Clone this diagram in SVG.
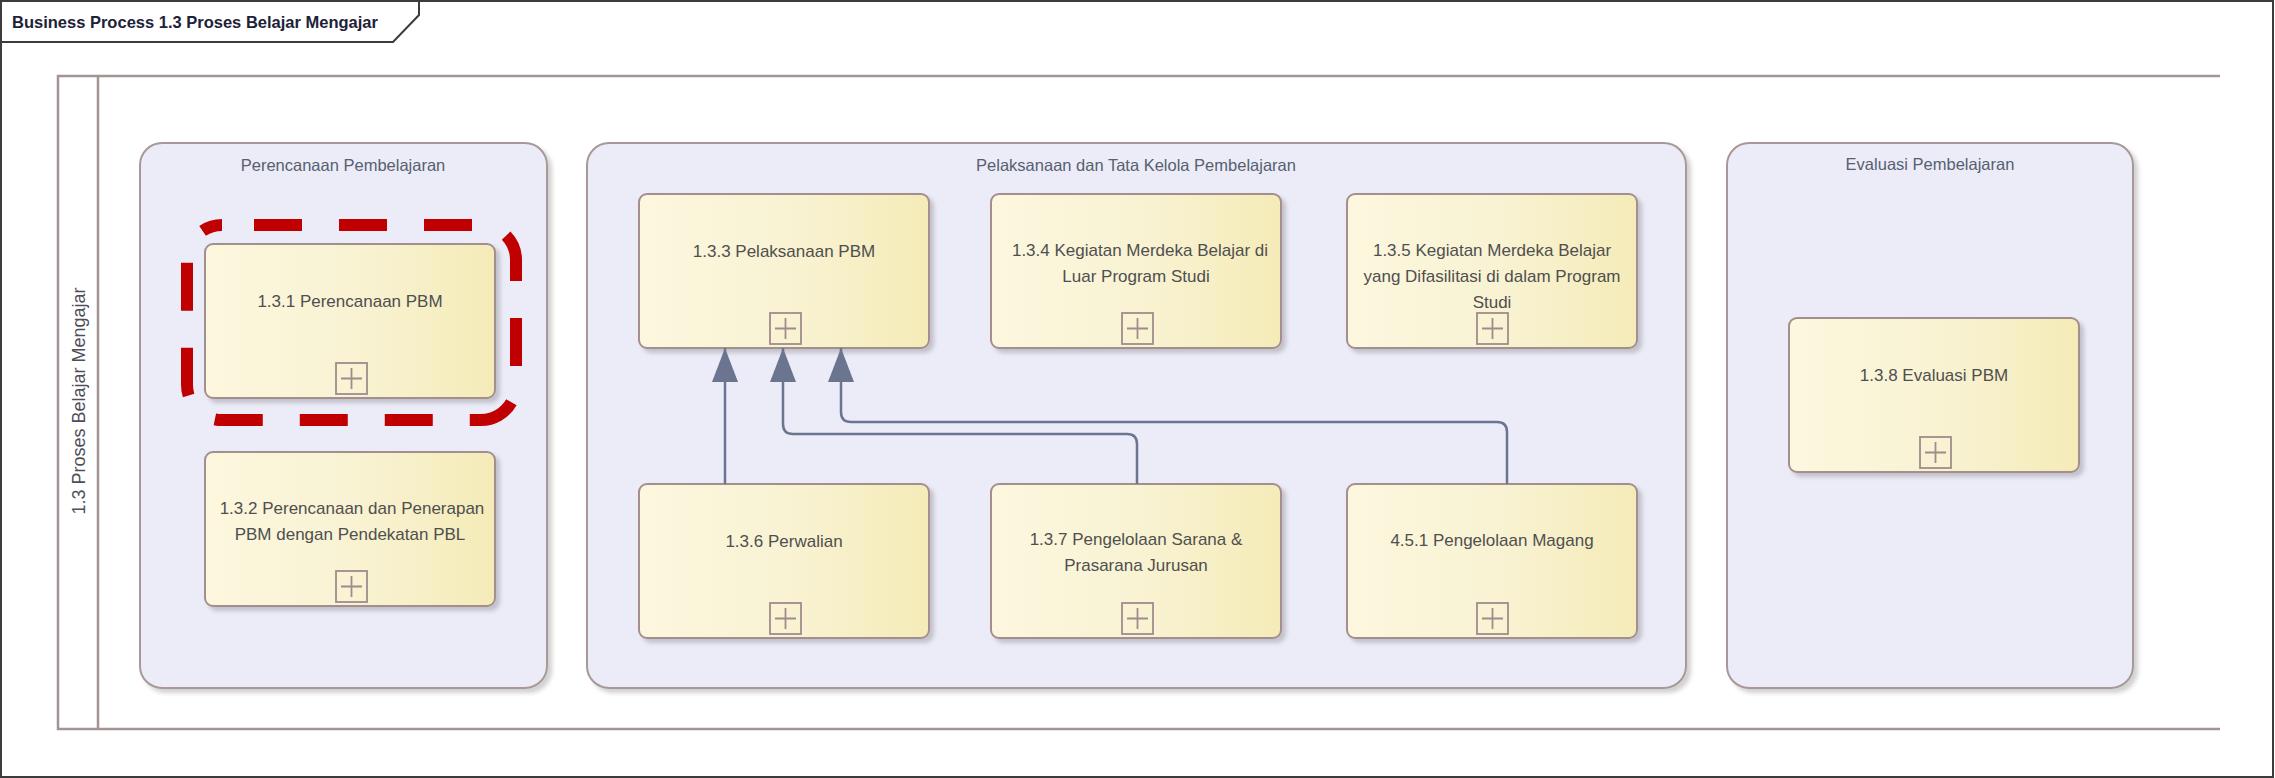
<svg xmlns="http://www.w3.org/2000/svg" width="2275" height="778" viewBox="0 0 2275 778">
  <style>
    .frame { fill: #ffffff; stroke: #3c3c3c; stroke-width: 2; }
    .tab { fill: none; stroke: #3c3c3c; stroke-width: 2; }
    .title { font-family: "Liberation Sans", Arial, sans-serif; font-weight: bold; font-size: 16.5px; fill: #1e2238; }
    .pool { fill: none; stroke: #a39393; stroke-width: 2.5; }
    .poollabel { font-family: "Liberation Sans", Arial, sans-serif; font-size: 18px; fill: #4e4e58; text-anchor: middle; }
    .lane { fill: #ececf8; stroke: #a89898; stroke-width: 2; filter: url(#shadow); }
    .lanelabel { font-family: "Liberation Sans", Arial, sans-serif; font-size: 16.5px; fill: #566070; text-anchor: middle; }
    .node { fill: url(#nodegrad); stroke: #a48f8f; stroke-width: 2; filter: url(#shadow); }
    .label { font-family: "Liberation Sans", Arial, sans-serif; font-size: 17px; fill: #4f4f4f; text-anchor: middle; }
    .plus { fill: none; stroke: #a08c8c; stroke-width: 1.8; }
    .conn { fill: none; stroke: #6b7590; stroke-width: 2.5; marker-end: url(#arrow); }
    .highlight { fill: none; stroke: #c00000; stroke-width: 12; stroke-dasharray: 48 37; stroke-dashoffset: 53; }
  </style>
  <defs>
    <linearGradient id="nodegrad" x1="0" y1="0" x2="1" y2="0">
      <stop offset="0" stop-color="#fcf7de"/>
      <stop offset="0.5" stop-color="#f9f3d4"/>
      <stop offset="1" stop-color="#f5ebb8"/>
    </linearGradient>
    <filter id="shadow" x="-5%" y="-5%" width="115%" height="115%">
      <feDropShadow dx="4" dy="4" stdDeviation="2" flood-color="#000000" flood-opacity="0.18"/>
    </filter>
    <marker id="arrow" markerUnits="userSpaceOnUse" viewBox="0 0 34 26" markerWidth="34" markerHeight="26" refX="34" refY="13" orient="auto">
      <path d="M0,0 L34,13 L0,26 z" fill="#6b7590"/>
    </marker>
  </defs>

  <g id="frame">
    <rect class="frame" x="1" y="1" width="2272" height="776"/>
    <path class="tab" d="M1,42 H393 L419,15 V1"/>
    <text class="title" x="12" y="28">Business Process 1.3 Proses Belajar Mengajar</text>
  </g>

  <g id="pool">
    <path class="pool" d="M2220,76 H58 V729 H2220"/>
    <line class="pool" x1="98" y1="76" x2="98" y2="729"/>
    <text class="poollabel" transform="translate(85,401) rotate(-90)">1.3 Proses Belajar Mengajar</text>
  </g>

  <g id="lane-perencanaan">
    <rect class="lane" x="140" y="143" width="407" height="545" rx="22"/>
    <text class="lanelabel" x="343" y="171">Perencanaan Pembelajaran</text>
  </g>
  <g id="lane-pelaksanaan">
    <rect class="lane" x="587" y="143" width="1099" height="545" rx="22"/>
    <text class="lanelabel" x="1136" y="171">Pelaksanaan dan Tata Kelola Pembelajaran</text>
  </g>
  <g id="lane-evaluasi">
    <rect class="lane" x="1727" y="143" width="406" height="545" rx="22"/>
    <text class="lanelabel" x="1930" y="170">Evaluasi Pembelajaran</text>
  </g>

  <g id="node-131">
    <rect class="node" x="205" y="244" width="290" height="154" rx="8"/>
    <text class="label" x="350" y="307">1.3.1 Perencanaan PBM</text>
    <rect class="plus" x="336" y="363" width="31" height="31"/>
    <path class="plus" d="M341,378.5 H362 M351.5,368 V389"/>
  </g>
  <g id="highlight-131">
    <rect class="highlight" x="187" y="225" width="329" height="195" rx="35"/>
  </g>

  <g id="node-132">
    <rect class="node" x="205" y="452" width="290" height="154" rx="8"/>
    <text class="label" x="352" y="514">1.3.2 Perencanaan dan Penerapan</text>
    <text class="label" x="350" y="540">PBM dengan Pendekatan PBL</text>
    <rect class="plus" x="336" y="571" width="31" height="31"/>
    <path class="plus" d="M341,586.5 H362 M351.5,576 V597"/>
  </g>

  <g id="node-133">
    <rect class="node" x="639" y="194" width="290" height="154" rx="8"/>
    <text class="label" x="784" y="257">1.3.3 Pelaksanaan PBM</text>
    <rect class="plus" x="770" y="313" width="31" height="31"/>
    <path class="plus" d="M775,328.5 H796 M785.5,318 V339"/>
  </g>

  <g id="node-134">
    <rect class="node" x="991" y="194" width="290" height="154" rx="8"/>
    <text class="label" x="1140" y="256">1.3.4 Kegiatan Merdeka Belajar di</text>
    <text class="label" x="1136" y="282">Luar Program Studi</text>
    <rect class="plus" x="1122" y="313" width="31" height="31"/>
    <path class="plus" d="M1127,328.5 H1148 M1137.5,318 V339"/>
  </g>

  <g id="node-135">
    <rect class="node" x="1347" y="194" width="290" height="154" rx="8"/>
    <text class="label" x="1492" y="256">1.3.5 Kegiatan Merdeka Belajar</text>
    <text class="label" x="1492" y="282">yang Difasilitasi di dalam Program</text>
    <text class="label" x="1492" y="308">Studi</text>
    <rect class="plus" x="1477" y="313" width="31" height="31"/>
    <path class="plus" d="M1482,328.5 H1503 M1492.5,318 V339"/>
  </g>

  <g id="node-136">
    <rect class="node" x="639" y="484" width="290" height="154" rx="8"/>
    <text class="label" x="784" y="547">1.3.6 Perwalian</text>
    <rect class="plus" x="770" y="603" width="31" height="31"/>
    <path class="plus" d="M775,618.5 H796 M785.5,608 V629"/>
  </g>

  <g id="node-137">
    <rect class="node" x="991" y="484" width="290" height="154" rx="8"/>
    <text class="label" x="1136" y="545">1.3.7 Pengelolaan Sarana &amp;</text>
    <text class="label" x="1136" y="571">Prasarana Jurusan</text>
    <rect class="plus" x="1122" y="603" width="31" height="31"/>
    <path class="plus" d="M1127,618.5 H1148 M1137.5,608 V629"/>
  </g>

  <g id="node-451">
    <rect class="node" x="1347" y="484" width="290" height="154" rx="8"/>
    <text class="label" x="1492" y="546">4.5.1 Pengelolaan Magang</text>
    <rect class="plus" x="1477" y="603" width="31" height="31"/>
    <path class="plus" d="M1482,618.5 H1503 M1492.5,608 V629"/>
  </g>

  <g id="node-138">
    <rect class="node" x="1789" y="318" width="290" height="154" rx="8"/>
    <text class="label" x="1934" y="381">1.3.8 Evaluasi PBM</text>
    <rect class="plus" x="1920" y="437" width="31" height="31"/>
    <path class="plus" d="M1925,452.5 H1946 M1935.5,442 V463"/>
  </g>

  <g id="connectors">
    <path class="conn" d="M725,484 V348"/>
    <path class="conn" d="M1137,484 V444 Q1137,434 1127,434 H793 Q783,434 783,424 V348"/>
    <path class="conn" d="M1507,484 V432 Q1507,422 1497,422 H851 Q841,422 841,412 V348"/>
  </g>
</svg>
